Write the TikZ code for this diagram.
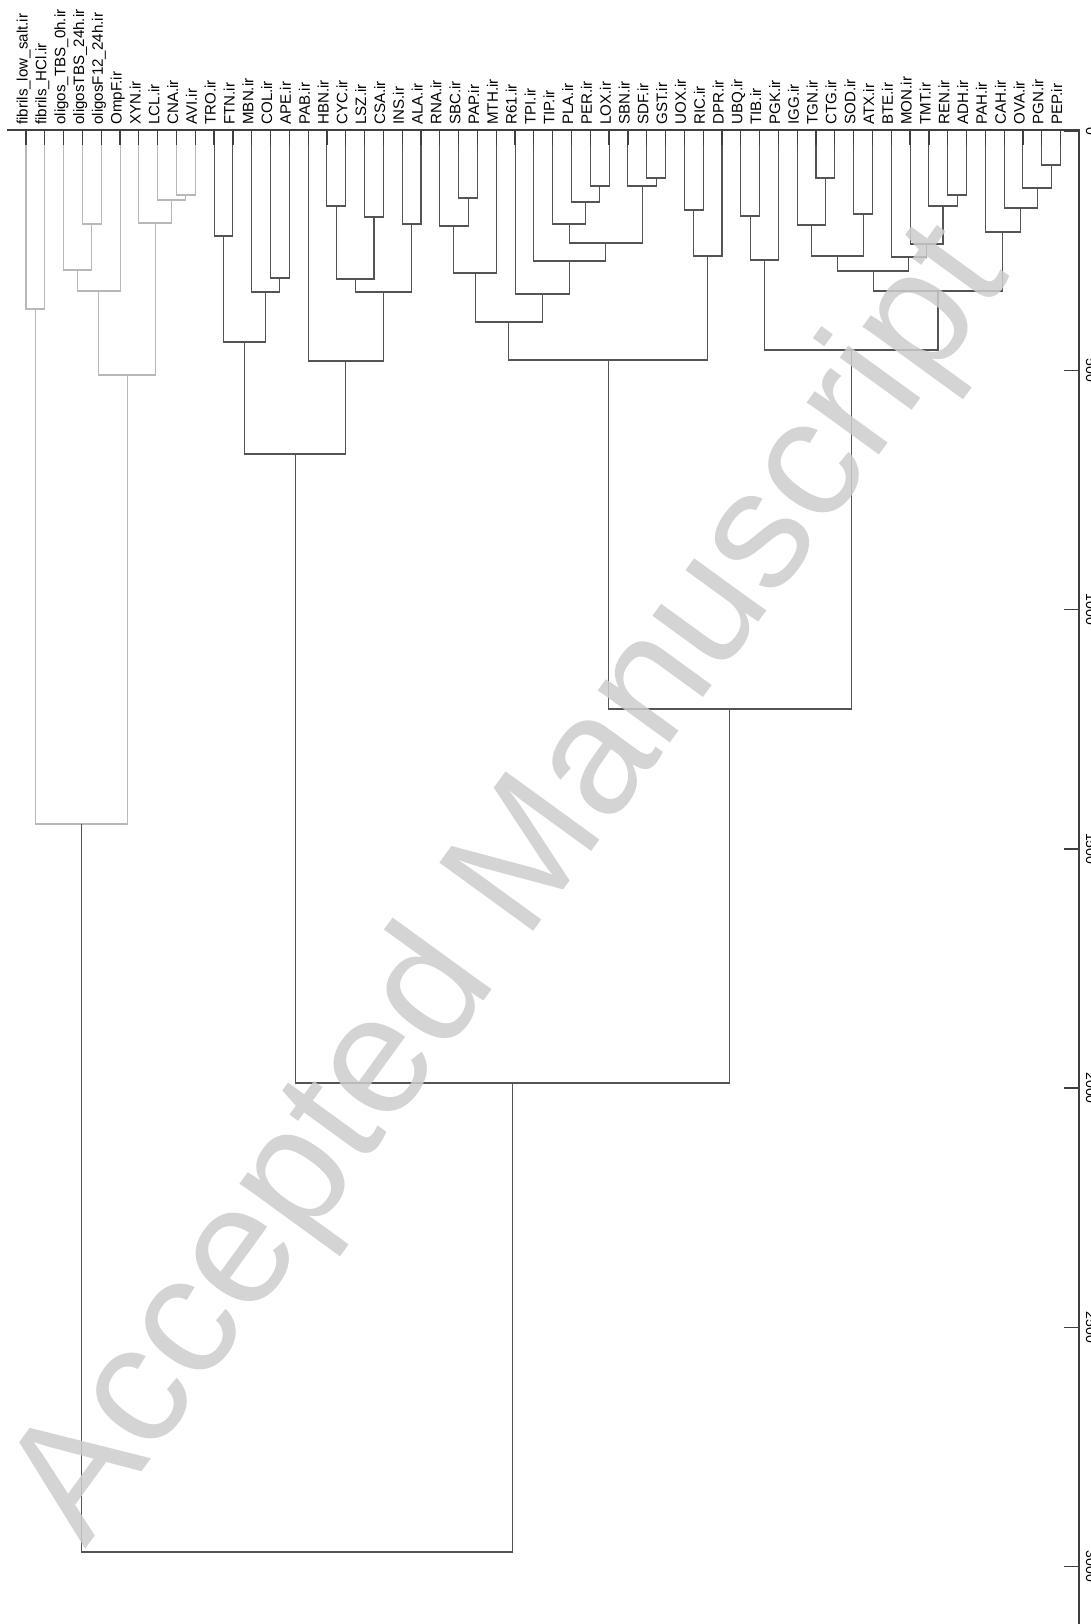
\documentclass[tikz,border=0pt]{standalone}
\usepackage{fontspec}
\setmainfont{Liberation Sans}
\usetikzlibrary{calc}
\definecolor{lightbr}{gray}{0.72}
\definecolor{darkbr}{gray}{0.33}
\definecolor{tickgray}{gray}{0.25}

\begin{document}
\begin{tikzpicture}[
    x=0.02cm, y=-0.02cm,
    leaflabel/.style={rotate=90, anchor=mid west, inner sep=0pt, font=\fontsize{8.6}{9}\selectfont},
    ticklabel/.style={rotate=-90, anchor=base, inner sep=0pt, font=\fontsize{8}{9}\selectfont},
    branch/.style={draw=#1, line width=0.6pt},
    leaftick/.style={draw=tickgray, line width=0.7pt},
    axisline/.style={draw=tickgray, line width=0.8pt},
    watermark/.style={rotate=54, anchor=base, inner sep=0pt, text=black!20, text opacity=0.85, font=\fontsize{96}{96}\selectfont}
]
\useasboundingbox (0,0) rectangle (1091,1624);

% leaves, left to right
\foreach \lab [count=\i] in {fibrils\_low\_salt.ir, fibrils\_HCl.ir, oligos\_TBS\_0h.ir, oligosTBS\_24h.ir,
    oligosF12\_24h.ir, OmpF.ir, XYN.ir, LCL.ir, CNA.ir, AVI.ir, TRO.ir, FTN.ir, MBN.ir, COL.ir,
    APE.ir, PAB.ir, HBN.ir, CYC.ir, LSZ.ir, CSA.ir, INS.ir, ALA.ir, RNA.ir, SBC.ir, PAP.ir,
    MTH.ir, R61.ir, TPI.ir, TIP.ir, PLA.ir, PER.ir, LOX.ir, SBN.ir, SDF.ir, GST.ir, UOX.ir,
    RIC.ir, DPR.ir, UBQ.ir, TIB.ir, PGK.ir, IGG.ir, TGN.ir, CTG.ir, SOD.ir, ATX.ir, BTE.ir,
    MON.ir, TMT.ir, REN.ir, ADH.ir, PAH.ir, CAH.ir, OVA.ir, PGN.ir, PEP.ir}{
  \pgfmathsetmacro{\xx}{26+(\i-1)*18.81}
  \coordinate (B\i) at (\xx,130);
  \coordinate (L\i) at (\xx,145);
  \node[leaflabel] (n\i) at (\xx-3,125) {\lab};
  \draw[leaftick] (B\i) -- (L\i);
}

% height axis
\coordinate (A0) at (7,130);
\coordinate (A1) at (1079,130);
\coordinate (A2) at (1079,1624);
\draw[axisline] (A0) -- (A1) -- (A2);
\foreach \v in {0,500,...,3000}{
  \pgfmathsetmacro{\yy}{131+0.47853*\v}
  \coordinate (k\v) at (1079,\yy);
  \draw[axisline] (k\v) -- ++(-15,0);
  \node[ticklabel] (s\v) at (1086,\yy) {\v};
}

% merges: name/child/child/height/colour
\foreach \m/\a/\b/\h/\c in {
    g1/L1/L2/309/lightbr, g2/L4/L5/224/lightbr, g3/L3/g2/270/lightbr, g4/g3/L6/291/lightbr,
    g5/L9/L10/195/lightbr, g6/L8/g5/200/lightbr, g7/L7/g6/223/lightbr, g8/g4/g7/375/lightbr,
    g9/g1/g8/824/lightbr,
    d1/L11/L12/236/darkbr, d2/L14/L15/278/darkbr, d3/L13/d2/292/darkbr, d4/d1/d3/342/darkbr,
    d5/L17/L18/206/darkbr, d6/L19/L20/217/darkbr, d7/d5/d6/279/darkbr, d8/L21/L22/224/darkbr,
    d9/d7/d8/292/darkbr, d10/L16/d9/361/darkbr, d11/d4/d10/454/darkbr,
    e1/L24/L25/198/darkbr, e2/L23/e1/226/darkbr, e3/e2/L26/273/darkbr, e4/L31/L32/186/darkbr,
    e5/L30/e4/202/darkbr, e6/L29/e5/224/darkbr, e7/L34/L35/178/darkbr, e8/L33/e7/186/darkbr,
    e9/e6/e8/243/darkbr, e10/L28/e9/261/darkbr, e11/L27/e10/294/darkbr, e12/e3/e11/322/darkbr,
    e13/L36/L37/210/darkbr, e14/e13/L38/256/darkbr, e15/e12/e14/360/darkbr,
    f1/L39/L40/216/darkbr, f2/f1/L41/260/darkbr, f3/L43/L44/178/darkbr, f4/L42/f3/225/darkbr,
    f5/L45/L46/214/darkbr, f6/f4/f5/256/darkbr, f7/L50/L51/195/darkbr, f8/L49/f7/206/darkbr,
    f9/L48/f8/244/darkbr, f10/L47/f9/257/darkbr, f11/f6/f10/271/darkbr, f12/L55/L56/165/darkbr,
    f13/L54/f12/188/darkbr, f14/L53/f13/208/darkbr, f15/L52/f14/232/darkbr, f16/f11/f15/291/darkbr,
    f17/f2/f16/350/darkbr,
    u1/e15/f17/709/darkbr, u2/d11/u1/1083/darkbr, root/g9/u2/1552/darkbr}{
  \path ($(\a)!0.5!(\b)$) coordinate (tmp);
  \coordinate (\m) at (tmp |- 0,\h);
  \draw[branch=\c] (\a) |- (\m) -| (\b);
}

\node[watermark] (wm) at (548,912) {Accepted Manuscript};
\end{tikzpicture}
\end{document}
